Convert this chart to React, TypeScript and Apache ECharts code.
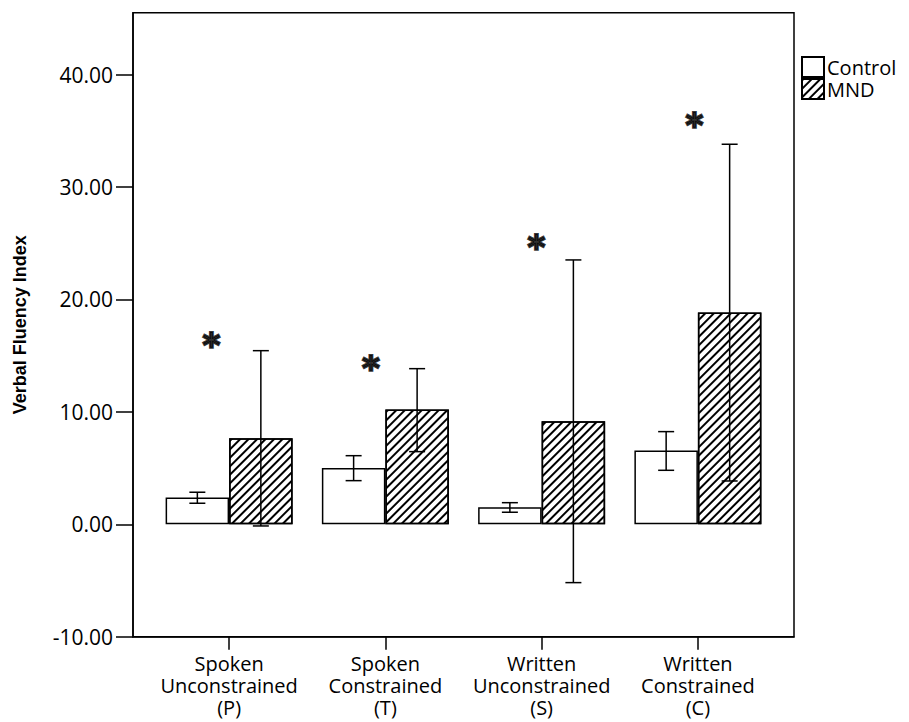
import React, { useEffect, useRef } from "react";
import * as echarts from "echarts";

const categories = ["Spoken\nUnconstrained\n(P)", "Spoken\nConstrained\n(T)", "Written\nUnconstrained\n(S)", "Written\nConstrained\n(C)"];
const seriesNames = ["Control", "MND"];
const controlMean = [2.37, 5.01, 1.51, 6.55];
const controlLow = [1.87, 3.88, 1.07, 4.8];
const controlHigh = [2.85, 6.1, 1.92, 8.24];
const mndMean = [7.65, 10.2, 9.16, 18.83];
const mndLow = [-0.15, 6.46, -5.19, 3.85];
const mndHigh = [15.44, 13.84, 23.51, 33.8];
const starX = [-0.1, 0.92, 1.98, 2.99];
const starY = [16.4, 14.35, 25.1, 36.0];
const yTicks = [-10, 0, 10, 20, 30, 40];
const xTicks = [0, 1, 2, 3];

const BAR_W = 63.5;

export default function App() {
  const ref = useRef<HTMLDivElement>(null);
  useEffect(() => {
    if (!ref.current) return;
    const chart = echarts.init(ref.current, null, { renderer: "svg" });
    const hatch = {
      symbol: "rect",
      symbolSize: 1,
      color: "#000",
      backgroundColor: "#fff",
      dashArrayX: [1, 0],
      dashArrayY: [1.3, 4],
      rotation: -Math.PI / 4,
    };
    const errData: number[][] = [];
    xTicks.forEach((x, i) => {
      errData.push([x, controlLow[i], controlHigh[i], -1]);
      errData.push([x, mndLow[i], mndHigh[i], 1]);
    });
    const font = "Open Sans";
    chart.setOption({
      animation: false,
      grid: {
        left: 125,
        top: 4.7,
        right: 115,
        bottom: 85.3,
        show: true,
        borderColor: "#000",
        borderWidth: 1.5,
        containLabel: false,
        outerBoundsMode: "none",
      },
      legend: {
        data: seriesNames,
        orient: "vertical",
        left: 793,
        top: 48,
        padding: 0,
        itemWidth: 22,
        itemHeight: 20,
        itemGap: 0,
        icon: "rect",
        textStyle: { fontFamily: font, fontSize: 20, lineHeight: 20, color: "#000", padding: [0, 0, 0, -2] },
      },
      xAxis: {
        type: "value",
        min: -0.615,
        max: 3.615,
        splitLine: { show: false },
        axisLine: { show: true, onZero: false, lineStyle: { color: "#000", width: 1.5 } },
        axisTick: { show: true, customValues: xTicks, length: 13, lineStyle: { color: "#000", width: 1.5 } },
        axisLabel: {
          customValues: xTicks,
          formatter: (v: number) => categories[Math.round(v)] ?? "",
          fontFamily: font,
          fontSize: 20,
          lineHeight: 22,
          color: "#000",
          margin: 16,
        },
      },
      yAxis: {
        type: "value",
        min: -10,
        max: 45.5,
        name: "Verbal Fluency Index",
        nameLocation: "middle",
        nameGap: 104,
        nameTextStyle: { fontFamily: "Liberation Sans", fontWeight: "bold", fontSize: 18, color: "#000" },
        splitLine: { show: false },
        axisLine: { show: true, onZero: false, lineStyle: { color: "#000", width: 1.5 } },
        axisTick: { show: true, customValues: yTicks, length: 17, lineStyle: { color: "#000", width: 1.5 } },
        axisLabel: {
          customValues: yTicks,
          formatter: (v: number) => v.toFixed(2),
          fontFamily: font,
          fontSize: 21,
          color: "#000",
          margin: 20,
        },
      },
      series: [
        {
          name: "Control",
          type: "bar",
          barWidth: BAR_W,
          barGap: "0%",
          data: xTicks.map((x, i) => [x, controlMean[i]]),
          itemStyle: { color: "#fff", borderColor: "#000", borderWidth: 1.5 },
        },
        {
          name: "MND",
          type: "bar",
          barWidth: BAR_W,
          barGap: "0%",
          data: xTicks.map((x, i) => [x, mndMean[i]]),
          itemStyle: { color: "#fff", borderColor: "#000", borderWidth: 1.5, decal: hatch },
        },
        {
          type: "custom",
          name: "err",
          z: 5,
          data: errData,
          renderItem: (params: any, api: any) => {
            const x = api.value(0);
            const lo = api.coord([x, api.value(1)]);
            const hi = api.coord([x, api.value(2)]);
            const side = api.value(3);
            const cx = lo[0] + side * BAR_W / 2;
            const hw = 8;
            const style = { stroke: "#000", lineWidth: 1.5 };
            return {
              type: "group",
              children: [
                { type: "line", shape: { x1: cx, y1: lo[1], x2: cx, y2: hi[1] }, style },
                { type: "line", shape: { x1: cx - hw, y1: lo[1], x2: cx + hw, y2: lo[1] }, style },
                { type: "line", shape: { x1: cx - hw, y1: hi[1], x2: cx + hw, y2: hi[1] }, style },
              ],
            };
          },
        },
        {
          type: "scatter",
          name: "stars",
          symbolSize: 0,
          z: 6,
          data: starX.map((x, i) => [x, starY[i]]),
          label: {
            show: true,
            position: "inside",
            formatter: "*",
            fontFamily: "DejaVu Sans",
            fontWeight: "bold",
            fontSize: 34,
            color: "#000",
            textBorderColor: "#000",
            textBorderWidth: 2,
            offset: [-2, 5],
          },
        },
      ],
    });
    return () => chart.dispose();
  }, []);
  return <div ref={ref} style={{ width: 901, height: 714 }} />;
}
